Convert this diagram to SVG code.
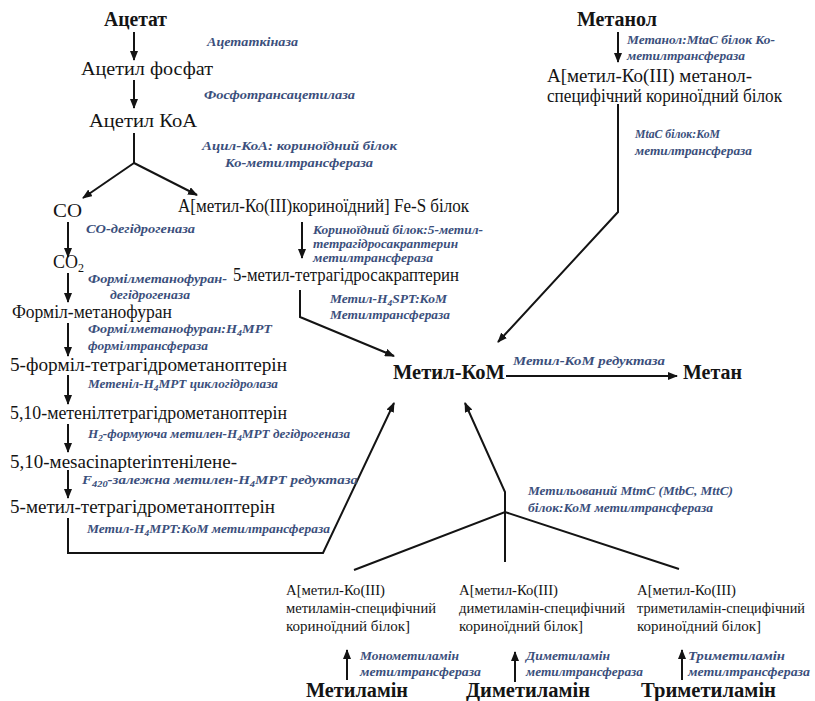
<svg xmlns="http://www.w3.org/2000/svg" width="815" height="701" viewBox="0 0 815 701">
<defs>
<style>
text{font-family:"Liberation Serif","Times New Roman",serif}
.n{font-size:18px;fill:#141414}
.b{font-weight:bold;font-size:20px}
.s{font-size:15px}
.e{font-style:italic;font-weight:bold;font-size:13px;fill:#3b4f7c}
.c{fill:none;stroke:#141414;stroke-width:2}
</style>
<marker id="ah" markerUnits="userSpaceOnUse" markerWidth="10" markerHeight="8" refX="9" refY="4" orient="auto">
<path d="M0,0 L10,4 L0,8 z" fill="#141414"/>
</marker>
</defs>
<rect width="815" height="701" fill="#fff"/>
<g id="connectors">
<path class="c" d="M134,32 V60" marker-end="url(#ah)"/>
<path class="c" d="M134,80 V108" marker-end="url(#ah)"/>
<path class="c" d="M134,133 V163"/>
<path class="c" d="M134,163 L83,198" marker-end="url(#ah)"/>
<path class="c" d="M134,163 L197,195" marker-end="url(#ah)"/>
<path class="c" d="M68,222 V257" marker-end="url(#ah)"/>
<path class="c" d="M68,273 V302" marker-end="url(#ah)"/>
<path class="c" d="M68,323 V356" marker-end="url(#ah)"/>
<path class="c" d="M68,375 V404" marker-end="url(#ah)"/>
<path class="c" d="M68,424 V452" marker-end="url(#ah)"/>
<path class="c" d="M68,470 V498" marker-end="url(#ah)"/>
<path class="c" d="M68,518 V553 H323 L394,403" marker-end="url(#ah)"/>
<path class="c" d="M302,222 V258" marker-end="url(#ah)"/>
<path class="c" d="M300,290 V317 L394,356" marker-end="url(#ah)"/>
<path class="c" d="M618,32 V62" marker-end="url(#ah)"/>
<path class="c" d="M618,104 V212 L498,342" marker-end="url(#ah)"/>
<path class="c" d="M506,376 H677" marker-end="url(#ah)"/>
<path class="c" d="M505,562 V492 L465,403" marker-end="url(#ah)"/>
<path class="c" d="M354,570 L505,512 L679,569"/>
<path class="c" d="M347,680 V650" marker-end="url(#ah)"/>
<path class="c" d="M515,682 V652" marker-end="url(#ah)"/>
<path class="c" d="M682,680 V650" marker-end="url(#ah)"/>
<g id="enzymes">
<text class="e" x="207" y="46" textLength="91" lengthAdjust="spacingAndGlyphs">Ацетаткіназа</text>
<text class="e" x="204" y="99" textLength="151" lengthAdjust="spacingAndGlyphs">Фосфотрансацетилаза</text>
<text class="e" x="202" y="150" textLength="195" lengthAdjust="spacingAndGlyphs">Ацил-КоА: кориноїдний білок</text>
<text class="e" x="225" y="167" textLength="148" lengthAdjust="spacingAndGlyphs">Ко-метилтрансфераза</text>
<text class="e" x="86" y="233" textLength="109" lengthAdjust="spacingAndGlyphs">CO-дегідрогеназа</text>
<text class="e" x="88" y="283" textLength="139" lengthAdjust="spacingAndGlyphs">Формілметанофуран-</text>
<text class="e" x="110" y="299" textLength="80" lengthAdjust="spacingAndGlyphs">дегідрогеназа</text>
<text class="e" x="313" y="234" textLength="170" lengthAdjust="spacingAndGlyphs">Кориноїдний білок:5-метил-</text>
<text class="e" x="313" y="248" textLength="145" lengthAdjust="spacingAndGlyphs">тетрагідросакраптерин</text>
<text class="e" x="313" y="262" textLength="120" lengthAdjust="spacingAndGlyphs">метилтрансфераза</text>
<text class="e" x="330" y="303" textLength="117" lengthAdjust="spacingAndGlyphs">Метил-H<tspan font-size="9" dy="3">4</tspan><tspan dy="-3">SPT:КоМ</tspan></text>
<text class="e" x="330" y="319" textLength="120" lengthAdjust="spacingAndGlyphs">Метилтрансфераза</text>
<text class="e" x="88" y="333" textLength="184" lengthAdjust="spacingAndGlyphs">Формілметанофуран:H<tspan font-size="9" dy="3">4</tspan><tspan dy="-3">MPT</tspan></text>
<text class="e" x="88" y="350" textLength="120" lengthAdjust="spacingAndGlyphs">формілтрансфераза</text>
<text class="e" x="88" y="388" textLength="190" lengthAdjust="spacingAndGlyphs">Метеніл-H<tspan font-size="9" dy="3">4</tspan><tspan dy="-3">MPT циклогідролаза</tspan></text>
<text class="e" x="88" y="438" textLength="262" lengthAdjust="spacingAndGlyphs">H<tspan font-size="9" dy="3">2</tspan><tspan dy="-3">-формуюча метилен-H</tspan><tspan font-size="9" dy="3">4</tspan><tspan dy="-3">MPT дегідрогеназа</tspan></text>
<text class="e" x="82" y="484" textLength="276" lengthAdjust="spacingAndGlyphs">F<tspan font-size="9" dy="3">420</tspan><tspan dy="-3">-залежна метилен-H</tspan><tspan font-size="9" dy="3">4</tspan><tspan dy="-3">MPT редуктаза</tspan></text>
<text class="e" x="87" y="533" textLength="243" lengthAdjust="spacingAndGlyphs">Метил-H<tspan font-size="9" dy="3">4</tspan><tspan dy="-3">MPT:КоМ метилтрансфераза</tspan></text>
<text class="e" x="627" y="44" textLength="148" lengthAdjust="spacingAndGlyphs">Метанол:MtaC білок Ко-</text>
<text class="e" x="627" y="60" textLength="118" lengthAdjust="spacingAndGlyphs">метилтрансфераза</text>
<text class="e" x="635" y="138" textLength="85" lengthAdjust="spacingAndGlyphs">MtaC білок:КоМ</text>
<text class="e" x="635" y="155" textLength="117" lengthAdjust="spacingAndGlyphs">метилтрансфераза</text>
<text class="e" x="513" y="365" textLength="152" lengthAdjust="spacingAndGlyphs">Метил-КоМ редуктаза</text>
<text class="e" x="528" y="495" textLength="205" lengthAdjust="spacingAndGlyphs">Метильований MtmC (MtbC, MttC)</text>
<text class="e" x="528" y="512" textLength="185" lengthAdjust="spacingAndGlyphs">білок:КоМ метилтрансфераза</text>
<text class="e" x="360" y="660" textLength="99" lengthAdjust="spacingAndGlyphs">Монометиламін</text>
<text class="e" x="360" y="676" textLength="121" lengthAdjust="spacingAndGlyphs">метилтрансфераза</text>
<text class="e" x="526" y="660" textLength="84" lengthAdjust="spacingAndGlyphs">Диметиламін</text>
<text class="e" x="526" y="676" textLength="117" lengthAdjust="spacingAndGlyphs">метилтрансфераза</text>
<text class="e" x="688" y="660" textLength="97" lengthAdjust="spacingAndGlyphs">Триметиламін</text>
<text class="e" x="688" y="676" textLength="122" lengthAdjust="spacingAndGlyphs">метилтрансфераза</text>
</g>
</g>
<g id="n-acetate"><text class="n b" x="104" y="26" textLength="63" lengthAdjust="spacingAndGlyphs">Ацетат</text></g>
<g id="n-acetylphosphate"><text class="n" x="81" y="75" textLength="132" lengthAdjust="spacingAndGlyphs">Ацетил фосфат</text></g>
<g id="n-acetylcoa"><text class="n" x="89" y="127" textLength="108" lengthAdjust="spacingAndGlyphs">Ацетил КоА</text></g>
<g id="n-co"><text class="n" x="53" y="217" textLength="29" lengthAdjust="spacingAndGlyphs">CO</text></g>
<g id="n-corrinoid"><text class="n" x="178" y="212" textLength="291" lengthAdjust="spacingAndGlyphs">А[метил-Ко(III)кориноїдний] Fe-S білок</text></g>
<g id="n-co2"><text class="n" x="53" y="268">CO<tspan font-size="12" dy="4">2</tspan></text></g>
<g id="n-formylmf"><text class="n" x="12" y="318" textLength="160" lengthAdjust="spacingAndGlyphs">Форміл-метанофуран</text></g>
<g id="n-methylsp"><text class="n" x="233" y="281" textLength="226" lengthAdjust="spacingAndGlyphs">5-метил-тетрагідросакраптерин</text></g>
<g id="n-formylh4mpt"><text class="n" x="10" y="371" textLength="277" lengthAdjust="spacingAndGlyphs">5-форміл-тетрагідрометаноптерін</text></g>
<g id="n-methenyl"><text class="n" x="10" y="419" textLength="277" lengthAdjust="spacingAndGlyphs">5,10-метенілтетрагідрометаноптерін</text></g>
<g id="n-mesa"><text class="n" x="10" y="468" textLength="227" lengthAdjust="spacingAndGlyphs">5,10-мesacinapterinтенілене-</text></g>
<g id="n-methylh4mpt"><text class="n" x="10" y="513" textLength="265" lengthAdjust="spacingAndGlyphs">5-метил-тетрагідрометаноптерін</text></g>
<g id="n-methanol"><text class="n b" x="577" y="26" textLength="80" lengthAdjust="spacingAndGlyphs">Метанол</text></g>
<g id="n-methanolprot"><text class="n" x="547" y="82" textLength="205" lengthAdjust="spacingAndGlyphs">А[метил-Ко(III) метанол-</text><text class="n" x="547" y="102" textLength="235" lengthAdjust="spacingAndGlyphs">специфічний кориноїдний білок</text></g>
<g id="n-methylcom"><text class="n b" x="393" y="379" textLength="112" lengthAdjust="spacingAndGlyphs">Метил-КоМ</text></g>
<g id="n-methane"><text class="n b" x="683" y="379" textLength="59" lengthAdjust="spacingAndGlyphs">Метан</text></g>
<g id="n-mma-prot"><text class="n s" x="286" y="595" textLength="99" lengthAdjust="spacingAndGlyphs">А[метил-Ко(III)</text><text class="n s" x="286" y="613" textLength="150" lengthAdjust="spacingAndGlyphs">метиламін-специфічний</text><text class="n s" x="286" y="631" textLength="124" lengthAdjust="spacingAndGlyphs">кориноїдний білок]</text></g>
<g id="n-dma-prot"><text class="n s" x="459" y="595" textLength="99" lengthAdjust="spacingAndGlyphs">А[метил-Ко(III)</text><text class="n s" x="459" y="613" textLength="166" lengthAdjust="spacingAndGlyphs">диметиламін-специфічний</text><text class="n s" x="459" y="631" textLength="124" lengthAdjust="spacingAndGlyphs">кориноїдний білок]</text></g>
<g id="n-tma-prot"><text class="n s" x="637" y="595" textLength="99" lengthAdjust="spacingAndGlyphs">А[метил-Ко(III)</text><text class="n s" x="637" y="613" textLength="168" lengthAdjust="spacingAndGlyphs">триметиламін-специфічний</text><text class="n s" x="637" y="631" textLength="124" lengthAdjust="spacingAndGlyphs">кориноїдний білок]</text></g>
<g id="n-mma"><text class="n b" x="306" y="697" textLength="102" lengthAdjust="spacingAndGlyphs">Метиламін</text></g>
<g id="n-dma"><text class="n b" x="466" y="697" textLength="124" lengthAdjust="spacingAndGlyphs">Диметиламін</text></g>
<g id="n-tma"><text class="n b" x="641" y="697" textLength="135" lengthAdjust="spacingAndGlyphs">Триметиламін</text></g>
</svg>
